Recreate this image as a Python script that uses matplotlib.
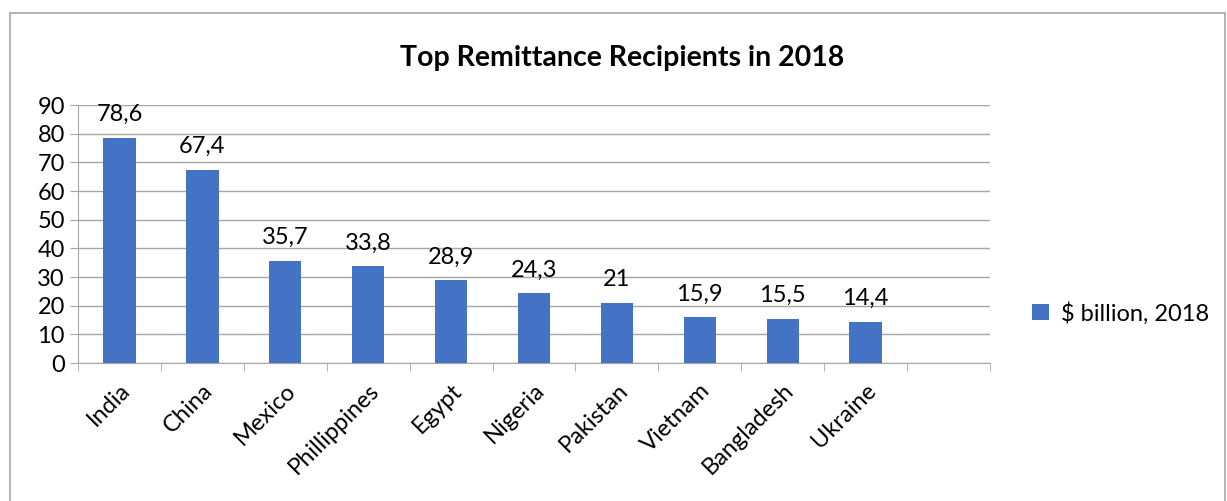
import numpy as np
import matplotlib.pyplot as plt
from matplotlib.patches import Rectangle

countries = ["India", "China", "Mexico", "Phillippines", "Egypt",
             "Nigeria", "Pakistan", "Vietnam", "Bangladesh", "Ukraine"]
remittances = [78.6, 67.4, 35.7, 33.8, 28.9, 24.3, 21, 15.9, 15.5, 14.4]

plt.rcParams['font.family'] = ['Lato', 'DejaVu Sans']

fig = plt.figure(figsize=(12.27, 5.01), dpi=100)
ax = fig.add_axes([0.0636, 0.2754, 0.7432, 0.515])

# chart frame
fig.patches.append(Rectangle((0.008, -0.05), 0.99, 1.024, transform=fig.transFigure,
                             fill=False, edgecolor='#a6a6a6', linewidth=1.2))

x = np.arange(len(countries))
bars = ax.bar(x, remittances, width=0.39, color='#4472C4', label='$ billion, 2018', zorder=3)

for xi, v in zip(x, remittances):
    txt = ('%g' % v).replace('.', ',')
    ax.annotate(txt, (xi, v), xytext=(0, 9), textcoords='offset points',
                ha='center', va='bottom', fontsize=17)

ax.set_xlim(-0.5, 10.5)
ax.set_ylim(0, 90)
ax.set_yticks(range(0, 91, 10))
ax.grid(axis='y', color='#a6a6a6', linewidth=1, zorder=0)

ax.set_xticks(x)
ax.set_xticklabels(countries, rotation=45, ha='right', rotation_mode='anchor', fontsize=17)
ax.set_xticks(np.arange(-0.5, 11, 1), minor=True)
ax.tick_params(axis='x', which='major', length=0, pad=12)
ax.tick_params(axis='x', which='minor', length=6, color='#a6a6a6')
ax.tick_params(axis='y', length=6, color='#a6a6a6', labelsize=17)

for s in ['top', 'right']:
    ax.spines[s].set_visible(False)
for s in ['left', 'bottom']:
    ax.spines[s].set_color('#a6a6a6')

fig.text(0.507, 0.885, 'Top Remittance Recipients in 2018', ha='center', va='center',
         fontsize=20.5, fontweight='bold')

fig.legend(handles=[bars], labels=['$ billion, 2018'], loc='center left',
           bbox_to_anchor=(0.824, 0.375), frameon=False, fontsize=17,
           handlelength=0.7, handleheight=0.7, handletextpad=0.5)

fig.savefig('out.png', dpi=100)
